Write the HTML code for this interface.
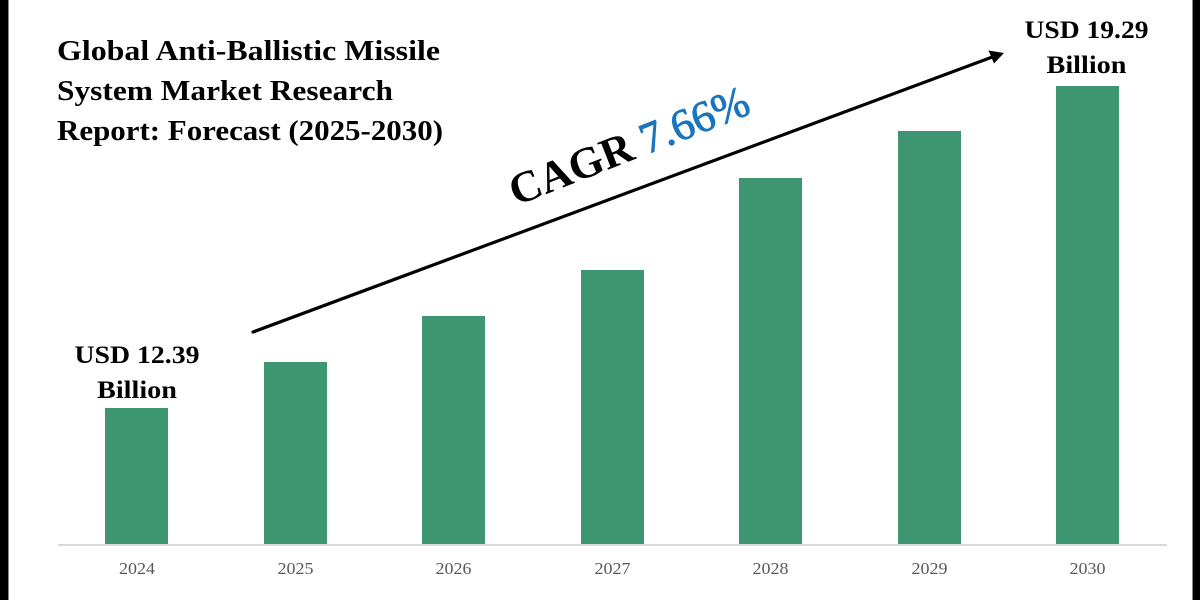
<!DOCTYPE html>
<html>
<head>
<meta charset="utf-8">
<style>
  html,body{margin:0;padding:0;background:#fff;}
  svg{display:block;}
</style>
</head>
<body>
<svg width="1200" height="600" viewBox="0 0 1200 600" xmlns="http://www.w3.org/2000/svg">
  <rect x="0" y="0" width="1200" height="600" fill="#ffffff"/>
  <!-- side borders -->
  <rect x="0" y="0" width="8" height="600" fill="#000"/>
  <rect x="8" y="0" width="1" height="600" fill="#8a8a8a"/>
  <rect x="1192" y="0" width="1" height="600" fill="#8a8a8a"/>
  <rect x="1193" y="0" width="7" height="600" fill="#000"/>

  <!-- title -->
  <g font-family="'Liberation Serif', serif" font-weight="bold" font-size="28" fill="#000">
    <text x="57" y="60" textLength="383" lengthAdjust="spacingAndGlyphs">Global Anti-Ballistic Missile</text>
    <text x="57" y="100" textLength="336" lengthAdjust="spacingAndGlyphs">System Market Research</text>
    <text x="57" y="140" textLength="386" lengthAdjust="spacingAndGlyphs">Report: Forecast (2025-2030)</text>
  </g>

  <!-- bars -->
  <g fill="#3e9572">
    <rect x="105" y="408" width="63" height="137"/>
    <rect x="264" y="362" width="63" height="183"/>
    <rect x="422" y="316" width="63" height="229"/>
    <rect x="581" y="270" width="63" height="275"/>
    <rect x="739" y="178" width="63" height="367"/>
    <rect x="898" y="131" width="63" height="414"/>
    <rect x="1056" y="86" width="63" height="459"/>
  </g>

  <!-- axis -->
  <rect x="58" y="544" width="1109" height="2" fill="#d9d9d9"/>

  <!-- x tick labels -->
  <g font-family="'Liberation Serif', serif" font-size="17" fill="#595959" text-anchor="middle">
    <text x="137" y="574" textLength="36" lengthAdjust="spacingAndGlyphs">2024</text>
    <text x="295.5" y="574" textLength="36" lengthAdjust="spacingAndGlyphs">2025</text>
    <text x="453.5" y="574" textLength="36" lengthAdjust="spacingAndGlyphs">2026</text>
    <text x="612.5" y="574" textLength="36" lengthAdjust="spacingAndGlyphs">2027</text>
    <text x="770.5" y="574" textLength="36" lengthAdjust="spacingAndGlyphs">2028</text>
    <text x="929.5" y="574" textLength="36" lengthAdjust="spacingAndGlyphs">2029</text>
    <text x="1087.5" y="574" textLength="36" lengthAdjust="spacingAndGlyphs">2030</text>
  </g>

  <!-- value labels -->
  <g font-family="'Liberation Serif', serif" font-weight="bold" font-size="25" fill="#000" text-anchor="middle">
    <text x="137" y="363" textLength="125" lengthAdjust="spacingAndGlyphs">USD 12.39</text>
    <text x="137" y="398" textLength="80" lengthAdjust="spacingAndGlyphs">Billion</text>
    <text x="1086.5" y="38" textLength="124" lengthAdjust="spacingAndGlyphs">USD 19.29</text>
    <text x="1086.5" y="73" textLength="80" lengthAdjust="spacingAndGlyphs">Billion</text>
  </g>

  <!-- arrow -->
  <line x1="253" y1="332" x2="991" y2="57.5" stroke="#000" stroke-width="3.2" stroke-linecap="round"/>
  <polygon points="1004,53 994,63.5 988.5,50.5" fill="#000"/>

  <!-- CAGR -->
  <g transform="translate(516,206) rotate(-21.5)">
    <text x="0" y="0" font-family="'Liberation Serif', serif" font-size="44" fill="#000"><tspan font-weight="bold">CAGR </tspan><tspan fill="#1b75bc" stroke="#1b75bc" stroke-width="0.9">7.66%</tspan></text>
  </g>
</svg>
</body>
</html>
